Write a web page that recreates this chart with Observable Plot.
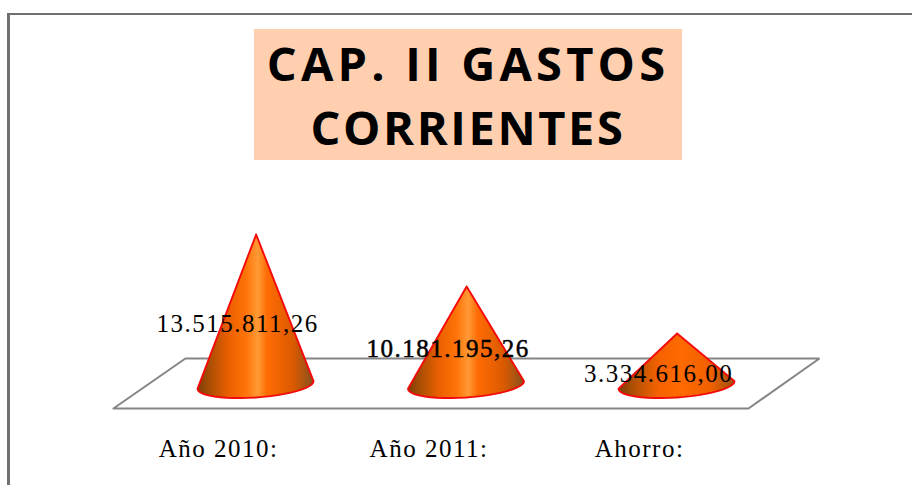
<!DOCTYPE html>
<html><head><meta charset="utf-8">
<style>
html,body{margin:0;padding:0;background:#fff;overflow:hidden}
#wrap{position:relative;width:912px;height:485px;overflow:hidden}
#frame{position:absolute;left:7px;top:13px;width:910px;height:480px;border-left:3px solid #707070;border-top:2px solid #707070;box-sizing:border-box;pointer-events:none}
#title{position:absolute;left:254px;top:29px;width:428px;height:131px;background:#ffcfaf;color:#000;text-align:center;font:700 47px/64px "Open Sans",sans-serif;display:flex;align-items:center;justify-content:center}
#title .a{letter-spacing:4.2px}
#title .b{letter-spacing:2.6px}
</style>
<script src="https://cdn.jsdelivr.net/npm/d3@7"></script>
<script src="https://cdn.jsdelivr.net/npm/@observablehq/plot@0.6"></script>
</head><body><div id="wrap"><div id="frame"></div><div id="title"><div><span class="a">CAP. II GASTOS</span><br><span class="b">CORRIENTES</span></div></div></div>
<script>
const categories = ["Año 2010:", "Año 2011:", "Ahorro:"];
const values = [13515811.26, 10181195.26, 3334616.00];
const valueLabels = ["13.515.811,26", "10.181.195,26", "3.334.616,00"];

const labelFont = {fontFamily: "Liberation Serif", fontSize: 25};
const pxUnit = values[2] / 52;            // value units per pixel on the lowest scale segment
const halfBase = 0.2755;
const rim = i => d3.range(0, 25).map(k => {
  const t = k / 24 * Math.PI;
  return {x: i + halfBase * Math.cos(t), y: -(-0.5 + 3.8 * -Math.cos(t) + 12.5 * Math.sin(t)) * pxUnit};
});
const cone = i => {
  const apex = {x: i + 0.003, y: values[i]};
  return [apex, ...rim(i), apex];
};
const floor = [
  {x: -0.675, y: -23 * pxUnit}, {x: -0.333, y: 27 * pxUnit},
  {x: 2.679, y: 27 * pxUnit}, {x: 2.342, y: -23 * pxUnit},
  {x: -0.675, y: -23 * pxUnit}
];

const gradient = (id, stops) => `<linearGradient id="${id}" x1="0" x2="1" y1="0" y2="0">` +
  stops.map(([o, c]) => `<stop offset="${o}" stop-color="${c}"/>`).join("") + `</linearGradient>`;
const defs = () => {
  const g = document.createElementNS("http://www.w3.org/2000/svg", "g");
  const tall = [[0, "#7a3e08"], [.1, "#a84e05"], [.27, "#ec5f00"], [.42, "#ff7408"], [.52, "#ff9a35"], [.6, "#ff6c05"], [.82, "#dc5a00"], [1, "#86501e"]];
  g.innerHTML = "<defs>" +
    gradient("g0", tall) + gradient("g1", tall) +
    gradient("g2", [[0, "#7a3e08"], [.15, "#b85204"], [.35, "#f56200"], [.55, "#ff6a00"], [.8, "#ef6000"], [1, "#9a5010"]]) +
    "</defs>";
  return g;
};

const labelDy = [89, 62, 40];

const plot = Plot.plot({
  width: 912, height: 485,
  marginTop: 0, marginRight: 0, marginLeft: 0, marginBottom: 46,
  style: {background: "transparent", letterSpacing: "1.5px"},
  x: {domain: [-1.2114, 3.1211], range: [0, 912], axis: null},
  y: {type: "linear", domain: [0, values[2], values[1], values[0]], range: [385, 333, 286, 234], axis: null},
  marks: [
    defs,
    Plot.line(floor, {x: "x", y: "y", stroke: "#858585", strokeWidth: 2, strokeLinejoin: "miter"}),
    ...values.map((v, i) => Plot.line(cone(i), {x: "x", y: "y", fill: `url(#g${i})`, stroke: "#f40a0a", strokeWidth: 1.9})),
    ...values.map((v, i) => Plot.text([i], {
      x: d => d - 0.085, y: d => values[d], text: d => valueLabels[d], dy: labelDy[i],
      ...labelFont, fill: "#000",
      ...(i === 1 ? {stroke: "#000", strokeWidth: 0.5} : {})
    })),
    Plot.axisX({
      anchor: "bottom", ticks: [0, 1, 2], tickSize: 0, tickPadding: 0,
      tickFormat: i => categories[i], label: null, dx: -37,
      ...labelFont, fill: "#000"
    })
  ]
});
document.getElementById("wrap").appendChild(plot);
</script></body></html>
